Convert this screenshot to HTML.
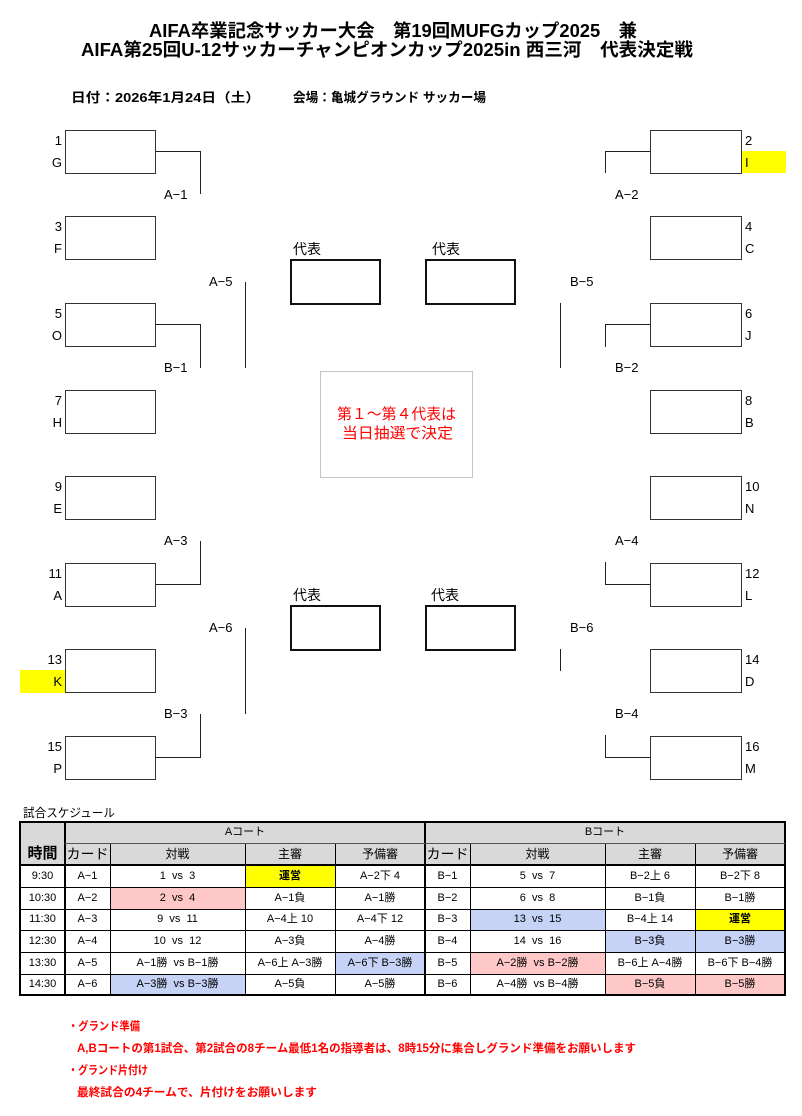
<!DOCTYPE html>
<html><head><meta charset="utf-8">
<style>
*{margin:0;padding:0;box-sizing:border-box}
html,body{width:802px;height:1116px;background:#fff;overflow:hidden}
body{position:relative;font-family:"Liberation Sans","Noto Sans CJK JP",sans-serif;color:#000}
.t{position:absolute;white-space:nowrap;line-height:1}
.fit span{display:inline-block;transform-origin:0 50%;white-space:nowrap}
.box{position:absolute;border:1px solid #333;background:#fff;height:44px}
.rep{position:absolute;border:2px solid #111;width:91px;height:46px}
.h{position:absolute;background:#222;height:1px}
.v{position:absolute;background:#222;width:1px}
.lb{position:absolute;font-size:13px;line-height:16px;white-space:nowrap}
.nl{position:absolute;font-size:13px;line-height:16px;white-space:nowrap;left:22px;width:40px;text-align:right}
.nr{position:absolute;font-size:13px;line-height:16px;white-space:nowrap;left:745px}
.c{position:absolute;text-align:center;font-size:11px;white-space:pre}
.tl{position:absolute;background:#000}
</style></head><body>

<!-- Title -->
<div class="t fit" style="left:149px;top:22px;width:488px;font-size:18px;font-weight:bold;line-height:18px"><span>AIFA卒業記念サッカー大会　第19回MUFGカップ2025　兼</span></div>
<div class="t fit" style="left:81px;top:41px;width:612px;font-size:18px;font-weight:bold;line-height:18px"><span>AIFA第25回U-12サッカーチャンピオンカップ2025in 西三河　代表決定戦</span></div>
<div class="t fit" style="left:71px;top:91px;width:189px;font-size:13px;font-weight:bold;line-height:14px"><span>日付：2026年1月24日（土）</span></div>
<div class="t fit" style="left:293px;top:91px;width:193px;font-size:13px;font-weight:bold;line-height:14px"><span>会場：亀城グラウンド サッカー場</span></div>

<!-- yellow highlights -->
<div style="position:absolute;left:742px;top:151px;width:44px;height:22px;background:#ffff00"></div>
<div style="position:absolute;left:20px;top:670px;width:45px;height:23px;background:#ffff00"></div>

<!-- left boxes -->
<div class="box" style="left:65px;top:130px;width:91px"></div>
<div class="box" style="left:65px;top:216px;width:91px"></div>
<div class="box" style="left:65px;top:303px;width:91px"></div>
<div class="box" style="left:65px;top:390px;width:91px"></div>
<div class="box" style="left:65px;top:476px;width:91px"></div>
<div class="box" style="left:65px;top:563px;width:91px"></div>
<div class="box" style="left:65px;top:649px;width:91px"></div>
<div class="box" style="left:65px;top:736px;width:91px"></div>
<!-- right boxes -->
<div class="box" style="left:650px;top:130px;width:92px"></div>
<div class="box" style="left:650px;top:216px;width:92px"></div>
<div class="box" style="left:650px;top:303px;width:92px"></div>
<div class="box" style="left:650px;top:390px;width:92px"></div>
<div class="box" style="left:650px;top:476px;width:92px"></div>
<div class="box" style="left:650px;top:563px;width:92px"></div>
<div class="box" style="left:650px;top:649px;width:92px"></div>
<div class="box" style="left:650px;top:736px;width:92px"></div>

<!-- left labels -->
<div class="nl" style="top:133px">1</div><div class="nl" style="top:155px">G</div>
<div class="nl" style="top:219px">3</div><div class="nl" style="top:241px">F</div>
<div class="nl" style="top:306px">5</div><div class="nl" style="top:328px">O</div>
<div class="nl" style="top:393px">7</div><div class="nl" style="top:415px">H</div>
<div class="nl" style="top:479px">9</div><div class="nl" style="top:501px">E</div>
<div class="nl" style="top:566px">11</div><div class="nl" style="top:588px">A</div>
<div class="nl" style="top:652px">13</div><div class="nl" style="top:674px">K</div>
<div class="nl" style="top:739px">15</div><div class="nl" style="top:761px">P</div>
<!-- right labels -->
<div class="nr" style="top:133px">2</div><div class="nr" style="top:155px">I</div>
<div class="nr" style="top:219px">4</div><div class="nr" style="top:241px">C</div>
<div class="nr" style="top:306px">6</div><div class="nr" style="top:328px">J</div>
<div class="nr" style="top:393px">8</div><div class="nr" style="top:415px">B</div>
<div class="nr" style="top:479px">10</div><div class="nr" style="top:501px">N</div>
<div class="nr" style="top:566px">12</div><div class="nr" style="top:588px">L</div>
<div class="nr" style="top:652px">14</div><div class="nr" style="top:674px">D</div>
<div class="nr" style="top:739px">16</div><div class="nr" style="top:761px">M</div>

<!-- left connectors -->
<div class="h" style="left:155px;top:151px;width:46px"></div><div class="v" style="left:200px;top:151px;height:43px"></div>
<div class="h" style="left:155px;top:324px;width:46px"></div><div class="v" style="left:200px;top:324px;height:44px"></div>
<div class="v" style="left:200px;top:541px;height:44px"></div><div class="h" style="left:155px;top:584px;width:46px"></div>
<div class="v" style="left:200px;top:714px;height:44px"></div><div class="h" style="left:155px;top:757px;width:46px"></div>
<!-- right connectors -->
<div class="h" style="left:605px;top:151px;width:45px"></div><div class="v" style="left:605px;top:151px;height:22px"></div>
<div class="h" style="left:605px;top:324px;width:45px"></div><div class="v" style="left:605px;top:324px;height:23px"></div>
<div class="v" style="left:605px;top:562px;height:23px"></div><div class="h" style="left:605px;top:584px;width:45px"></div>
<div class="v" style="left:605px;top:735px;height:23px"></div><div class="h" style="left:605px;top:757px;width:45px"></div>
<!-- middle verticals -->
<div class="v" style="left:245px;top:282px;height:86px"></div>
<div class="v" style="left:245px;top:628px;height:86px"></div>
<div class="v" style="left:560px;top:303px;height:65px"></div>
<div class="v" style="left:560px;top:649px;height:22px"></div>

<!-- match labels -->
<div class="lb" style="left:164px;top:187px">A−1</div>
<div class="lb" style="left:164px;top:360px">B−1</div>
<div class="lb" style="left:209px;top:274px">A−5</div>
<div class="lb" style="left:164px;top:533px">A−3</div>
<div class="lb" style="left:209px;top:620px">A−6</div>
<div class="lb" style="left:164px;top:706px">B−3</div>
<div class="lb" style="left:615px;top:187px">A−2</div>
<div class="lb" style="left:615px;top:360px">B−2</div>
<div class="lb" style="left:570px;top:274px">B−5</div>
<div class="lb" style="left:615px;top:533px">A−4</div>
<div class="lb" style="left:570px;top:620px">B−6</div>
<div class="lb" style="left:615px;top:706px">B−4</div>

<!-- representative boxes -->
<div class="lb" style="left:293px;top:241px;font-size:14px">代表</div>
<div class="lb" style="left:432px;top:241px;font-size:14px">代表</div>
<div class="lb" style="left:293px;top:587px;font-size:14px">代表</div>
<div class="lb" style="left:431px;top:587px;font-size:14px">代表</div>
<div class="rep" style="left:290px;top:259px"></div>
<div class="rep" style="left:425px;top:259px"></div>
<div class="rep" style="left:290px;top:605px"></div>
<div class="rep" style="left:425px;top:605px"></div>

<!-- center box -->
<div style="position:absolute;left:320px;top:371px;width:153px;height:107px;border:1px solid #c4c4c4"></div>
<div class="t fit" style="left:337px;top:407px;width:119px;font-size:15px;line-height:16px;color:#ff0000"><span>第１～第４代表は</span></div>
<div class="t fit" style="left:342px;top:426px;width:111px;font-size:15px;line-height:16px;color:#ff0000"><span>当日抽選で決定</span></div>

<!-- schedule title -->
<div class="t fit" style="left:23px;top:806px;width:92px;font-size:12px;line-height:14px"><span>試合スケジュール</span></div>

<!-- table backgrounds -->
<div style="position:absolute;left:20px;top:822px;width:765px;height:43px;background:#d9d9d9"></div>

<!-- header texts -->
<div class="c" style="left:65px;top:822px;width:360px;height:21px;line-height:21px">Aコート</div>
<div class="c" style="left:425px;top:822px;width:360px;height:21px;line-height:21px">Bコート</div>
<div class="c" style="left:20px;top:843px;width:45px;height:22px;line-height:22px;font-size:15px;font-weight:bold">時間</div>
<div class="c" style="left:65px;top:843px;width:45px;height:22px;line-height:22px;font-size:14px">カード</div>
<div class="c" style="left:110px;top:843px;width:135px;height:22px;line-height:22px;font-size:12px">対戦</div>
<div class="c" style="left:245px;top:843px;width:90px;height:22px;line-height:22px;font-size:12px">主審</div>
<div class="c" style="left:335px;top:843px;width:90px;height:22px;line-height:22px;font-size:12px">予備審</div>
<div class="c" style="left:425px;top:843px;width:45px;height:22px;line-height:22px;font-size:14px">カード</div>
<div class="c" style="left:470px;top:843px;width:135px;height:22px;line-height:22px;font-size:12px">対戦</div>
<div class="c" style="left:605px;top:843px;width:90px;height:22px;line-height:22px;font-size:12px">主審</div>
<div class="c" style="left:695px;top:843px;width:90px;height:22px;line-height:22px;font-size:12px">予備審</div>

<!-- row 1 (865, h22) -->
<div class="c" style="left:20px;top:865px;width:45px;height:22px;line-height:22px">9:30</div>
<div class="c" style="left:65px;top:865px;width:45px;height:22px;line-height:22px">A−1</div>
<div class="c" style="left:110px;top:865px;width:135px;height:22px;line-height:22px">1  vs  3</div>
<div class="c" style="left:245px;top:865px;width:90px;height:22px;line-height:22px;background:#ffff00;font-weight:bold">運営</div>
<div class="c" style="left:335px;top:865px;width:90px;height:22px;line-height:22px">A−2下 4</div>
<div class="c" style="left:425px;top:865px;width:45px;height:22px;line-height:22px">B−1</div>
<div class="c" style="left:470px;top:865px;width:135px;height:22px;line-height:22px">5  vs  7</div>
<div class="c" style="left:605px;top:865px;width:90px;height:22px;line-height:22px">B−2上 6</div>
<div class="c" style="left:695px;top:865px;width:90px;height:22px;line-height:22px">B−2下 8</div>
<!-- row 2 (887) -->
<div class="c" style="left:20px;top:887px;width:45px;height:22px;line-height:22px">10:30</div>
<div class="c" style="left:65px;top:887px;width:45px;height:22px;line-height:22px">A−2</div>
<div class="c" style="left:110px;top:887px;width:135px;height:22px;line-height:22px;background:#ffc8c8">2  vs  4</div>
<div class="c" style="left:245px;top:887px;width:90px;height:22px;line-height:22px">A−1負</div>
<div class="c" style="left:335px;top:887px;width:90px;height:22px;line-height:22px">A−1勝</div>
<div class="c" style="left:425px;top:887px;width:45px;height:22px;line-height:22px">B−2</div>
<div class="c" style="left:470px;top:887px;width:135px;height:22px;line-height:22px">6  vs  8</div>
<div class="c" style="left:605px;top:887px;width:90px;height:22px;line-height:22px">B−1負</div>
<div class="c" style="left:695px;top:887px;width:90px;height:22px;line-height:22px">B−1勝</div>
<!-- row 3 (909, h21) -->
<div class="c" style="left:20px;top:909px;width:45px;height:21px;line-height:21px">11:30</div>
<div class="c" style="left:65px;top:909px;width:45px;height:21px;line-height:21px">A−3</div>
<div class="c" style="left:110px;top:909px;width:135px;height:21px;line-height:21px">9  vs  11</div>
<div class="c" style="left:245px;top:909px;width:90px;height:21px;line-height:21px">A−4上 10</div>
<div class="c" style="left:335px;top:909px;width:90px;height:21px;line-height:21px">A−4下 12</div>
<div class="c" style="left:425px;top:909px;width:45px;height:21px;line-height:21px">B−3</div>
<div class="c" style="left:470px;top:909px;width:135px;height:21px;line-height:21px;background:#c6d3f6">13  vs  15</div>
<div class="c" style="left:605px;top:909px;width:90px;height:21px;line-height:21px">B−4上 14</div>
<div class="c" style="left:695px;top:909px;width:90px;height:21px;line-height:21px;background:#ffff00;font-weight:bold">運営</div>
<!-- row 4 (930) -->
<div class="c" style="left:20px;top:930px;width:45px;height:22px;line-height:22px">12:30</div>
<div class="c" style="left:65px;top:930px;width:45px;height:22px;line-height:22px">A−4</div>
<div class="c" style="left:110px;top:930px;width:135px;height:22px;line-height:22px">10  vs  12</div>
<div class="c" style="left:245px;top:930px;width:90px;height:22px;line-height:22px">A−3負</div>
<div class="c" style="left:335px;top:930px;width:90px;height:22px;line-height:22px">A−4勝</div>
<div class="c" style="left:425px;top:930px;width:45px;height:22px;line-height:22px">B−4</div>
<div class="c" style="left:470px;top:930px;width:135px;height:22px;line-height:22px">14  vs  16</div>
<div class="c" style="left:605px;top:930px;width:90px;height:22px;line-height:22px;background:#c6d3f6">B−3負</div>
<div class="c" style="left:695px;top:930px;width:90px;height:22px;line-height:22px;background:#c6d3f6">B−3勝</div>
<!-- row 5 (952) -->
<div class="c" style="left:20px;top:952px;width:45px;height:22px;line-height:22px">13:30</div>
<div class="c" style="left:65px;top:952px;width:45px;height:22px;line-height:22px">A−5</div>
<div class="c" style="left:110px;top:952px;width:135px;height:22px;line-height:22px">A−1勝  vs B−1勝</div>
<div class="c" style="left:245px;top:952px;width:90px;height:22px;line-height:22px">A−6上 A−3勝</div>
<div class="c" style="left:335px;top:952px;width:90px;height:22px;line-height:22px;background:#c6d3f6">A−6下 B−3勝</div>
<div class="c" style="left:425px;top:952px;width:45px;height:22px;line-height:22px">B−5</div>
<div class="c" style="left:470px;top:952px;width:135px;height:22px;line-height:22px;background:#ffc8c8">A−2勝  vs B−2勝</div>
<div class="c" style="left:605px;top:952px;width:90px;height:22px;line-height:22px">B−6上 A−4勝</div>
<div class="c" style="left:695px;top:952px;width:90px;height:22px;line-height:22px">B−6下 B−4勝</div>
<!-- row 6 (974, h21) -->
<div class="c" style="left:20px;top:974px;width:45px;height:21px;line-height:21px">14:30</div>
<div class="c" style="left:65px;top:974px;width:45px;height:21px;line-height:21px">A−6</div>
<div class="c" style="left:110px;top:974px;width:135px;height:21px;line-height:21px;background:#c6d3f6">A−3勝  vs B−3勝</div>
<div class="c" style="left:245px;top:974px;width:90px;height:21px;line-height:21px">A−5負</div>
<div class="c" style="left:335px;top:974px;width:90px;height:21px;line-height:21px">A−5勝</div>
<div class="c" style="left:425px;top:974px;width:45px;height:21px;line-height:21px">B−6</div>
<div class="c" style="left:470px;top:974px;width:135px;height:21px;line-height:21px">A−4勝  vs B−4勝</div>
<div class="c" style="left:605px;top:974px;width:90px;height:21px;line-height:21px;background:#ffc8c8">B−5負</div>
<div class="c" style="left:695px;top:974px;width:90px;height:21px;line-height:21px;background:#ffc8c8">B−5勝</div>

<!-- table lines -->
<div style="position:absolute;left:19px;top:821px;width:767px;height:175px;border:2px solid #000"></div>
<div class="tl" style="left:64px;top:822px;width:2px;height:173px"></div>
<div class="tl" style="left:424px;top:822px;width:2px;height:173px"></div>
<div class="tl" style="left:110px;top:843px;width:1px;height:152px"></div>
<div class="tl" style="left:245px;top:843px;width:1px;height:152px"></div>
<div class="tl" style="left:335px;top:843px;width:1px;height:152px"></div>
<div class="tl" style="left:470px;top:843px;width:1px;height:152px"></div>
<div class="tl" style="left:605px;top:843px;width:1px;height:152px"></div>
<div class="tl" style="left:695px;top:843px;width:1px;height:152px"></div>
<div class="tl" style="left:65px;top:843px;width:720px;height:1px;background:#555"></div>
<div class="tl" style="left:20px;top:864px;width:765px;height:2px"></div>
<div class="tl" style="left:20px;top:887px;width:765px;height:1px"></div>
<div class="tl" style="left:20px;top:909px;width:765px;height:1px"></div>
<div class="tl" style="left:20px;top:930px;width:765px;height:1px"></div>
<div class="tl" style="left:20px;top:952px;width:765px;height:1px"></div>
<div class="tl" style="left:20px;top:974px;width:765px;height:1px"></div>

<!-- notes -->
<div class="t fit" style="left:68px;top:1021px;width:72px;font-size:11.5px;line-height:13px;font-weight:bold;color:#ff0000"><span>・グランド準備</span></div>
<div class="t fit" style="left:77px;top:1043px;width:559px;font-size:11.5px;line-height:13px;font-weight:bold;color:#ff0000"><span>A,Bコートの第1試合、第2試合の8チーム最低1名の指導者は、8時15分に集合しグランド準備をお願いします</span></div>
<div class="t fit" style="left:68px;top:1065px;width:80px;font-size:11.5px;line-height:13px;font-weight:bold;color:#ff0000"><span>・グランド片付け</span></div>
<div class="t fit" style="left:77px;top:1087px;width:240px;font-size:11.5px;line-height:13px;font-weight:bold;color:#ff0000"><span>最終試合の4チームで、片付けをお願いします</span></div>

<script>
(function(){
  var els=document.querySelectorAll('.fit');
  for(var i=0;i<els.length;i++){
    var e=els[i],s=e.firstElementChild;
    var w=parseFloat(e.style.width);
    var n=s.getBoundingClientRect().width;
    if(n>0&&w>0){s.style.transform='scaleX('+(w/n)+')';}
  }
})();
</script>
</body></html>
